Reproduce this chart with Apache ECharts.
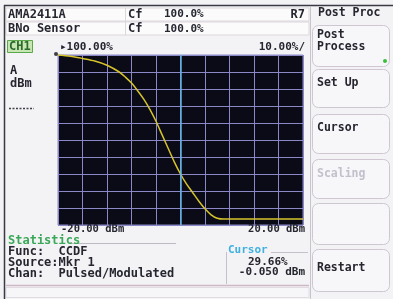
<!DOCTYPE html>
<html>
<head>
<meta charset="utf-8">
<script src="https://cdn.jsdelivr.net/npm/echarts@6/dist/echarts.min.js"></script>
<style>
  html, body { margin: 0; padding: 0; background: #f3f3f5; }
  #main { width: 393px; height: 299px; }
</style>
</head>
<body>
<div id="main"></div>
<script>
// power level (dBm) and CCDF (%)
const levelDbm = [-20, -18, -16, -14, -12, -10, -9, -8, -7, -6, -5, -4, -3, -2, -1, 0, 1, 2, 3, 4, 5, 6, 7, 10, 15, 20];
const ccdfPct  = [100, 99.3, 98, 96.5, 94, 90, 87, 83.5, 79, 74, 68, 61, 53, 45, 37, 30, 24, 19, 14, 9.5, 6, 4, 3.5, 3.5, 3.5, 3.5];
const cursorDbm = 0;
const xTicks = { min: -20, max: 20, step: 4 };
const yTicks = { min: 0, max: 100, step: 10 };

const chart = echarts.init(document.getElementById('main'));

const mono = (size, weight) => (weight || 'bold') + ' ' + size + 'px "DejaVu Sans Mono", monospace';
const ink = '#262630';

function txt(text, x, y, opts) {
  opts = opts || {};
  return {
    type: 'text', silent: true, z: 10,
    style: {
      text: text, x: x, y: y,
      font: mono(opts.size || 12, opts.weight),
      fill: opts.color || ink,
      align: opts.align || 'left',
      verticalAlign: 'middle'
    }
  };
}
function box(x, y, w, h, fill, stroke, r) {
  return {
    type: 'rect', silent: true, z: 1,
    shape: { x: x, y: y, width: w, height: h, r: r || 0 },
    style: { fill: fill, stroke: stroke, lineWidth: 1 }
  };
}
function line(x1, y1, x2, y2, color, width, dash) {
  return {
    type: 'line', silent: true, z: 2,
    shape: { x1: x1, y1: y1, x2: x2, y2: y2 },
    style: { stroke: color, lineWidth: width || 1, lineDash: dash || null }
  };
}

const btnStroke = '#cfc6d2';
const graphics = [
  // frame
  line(4, 5.5, 393, 5.5, '#3a3a44', 1.5),
  line(4.5, 5, 4.5, 299, '#3a3a44', 1.5),
  line(310.5, 6, 310.5, 299, '#c9c4cc', 1),
  // header rows
  box(6, 8, 303, 13, '#fbfbfc', '#ddd6dc'),
  box(6, 22, 303, 13, '#fbfbfc', '#ddd6dc'),
  line(125.5, 8, 125.5, 35, '#ddd6dc'),
  txt('AMA2411A', 8, 14.5),
  txt('Cf', 128, 14.5),
  txt('100.0%', 164, 14.5, { size: 11 }),
  txt('R7', 305, 14.5, { align: 'right' }),
  txt('BNo Sensor', 8, 29),
  txt('Cf', 128, 29),
  txt('100.0%', 164, 29, { size: 11 }),
  // side panel
  txt('Post Proc', 318, 13.5, { size: 11.5 }),
  box(312.5, 25.5, 77, 41, '#f7f7f9', btnStroke, 6),
  txt('Post', 317, 35, { size: 11.5 }),
  txt('Process', 317, 47.5, { size: 11.5 }),
  { type: 'circle', silent: true, z: 10, shape: { cx: 385, cy: 61, r: 2 }, style: { fill: '#3cbf3c' } },
  box(312.5, 69.5, 77, 38, '#f7f7f9', btnStroke, 6),
  txt('Set Up', 317, 83, { size: 11.5 }),
  box(312.5, 114.5, 77, 39, '#f7f7f9', btnStroke, 6),
  txt('Cursor', 317, 128, { size: 11.5 }),
  box(312.5, 159.5, 77, 39, '#f7f7f9', btnStroke, 6),
  txt('Scaling', 317, 174, { size: 11.5, color: '#c4bfcc' }),
  box(312.5, 203.5, 77, 41, '#f7f7f9', btnStroke, 6),
  box(312.5, 249.5, 77, 42, '#f7f7f9', btnStroke, 6),
  txt('Restart', 317, 268, { size: 11.5 }),
  // channel block
  box(7.5, 40.5, 25, 12, '#c7e6b4', '#5aa84a'),
  txt('CH1', 9, 47, { color: '#2b6a2b' }),
  txt('\u25B8100.00%', 60, 47, { size: 11 }),
  txt('10.00%/', 305, 47, { size: 11, align: 'right' }),
  txt('A', 10, 71),
  txt('dBm', 10, 84),
  line(9, 108.5, 34, 108.5, '#40404a', 1.5, [2, 1.5]),
  // x range labels
  txt('-20.00 dBm', 61, 229.5, { size: 10.5 }),
  txt('20.00 dBm', 305, 229.5, { size: 10.5, align: 'right' }),
  // statistics block
  txt('Statistics', 8, 241, { color: '#3aa858' }),
  line(72, 243.5, 176, 243.5, '#bdbac4'),
  txt('Func:  CCDF', 8, 252),
  txt('Source:Mkr 1', 8, 263),
  txt('Chan:  Pulsed/Modulated', 8, 274),
  // cursor readout
  txt('Cursor', 228, 250, { size: 11, color: '#3fb0e0' }),
  line(226.5, 252, 226.5, 284, '#c4c0cc'),
  line(271, 252.5, 308, 252.5, '#c4c0cc'),
  txt('29.66%', 248, 262, { size: 11 }),
  txt('-0.050 dBm', 305, 272.5, { size: 11, align: 'right' }),
  // bottom message bar
  line(6, 285.5, 309, 285.5, '#cdb8c8', 1.5),
  box(6, 287.5, 303, 10, '#f6f6f8', '#e0dce2')
];

const option = {
  backgroundColor: '#f3f3f5',
  animation: false,
  grid: {
    left: 58, top: 55, width: 245, height: 170,
    show: true, backgroundColor: '#0b0b17', borderColor: '#8a88c6', borderWidth: 1
  },
  xAxis: {
    type: 'value', min: xTicks.min, max: xTicks.max, interval: xTicks.step,
    axisLine: { show: false }, axisTick: { show: false }, axisLabel: { show: false },
    splitLine: { show: true, lineStyle: { color: '#8a88c6', width: 1 } }
  },
  yAxis: {
    type: 'value', min: yTicks.min, max: yTicks.max, interval: yTicks.step,
    axisLine: { show: false }, axisTick: { show: false }, axisLabel: { show: false },
    splitLine: { show: true, lineStyle: { color: '#8a88c6', width: 1 } }
  },
  graphic: graphics,
  series: [
    {
      type: 'line',
      data: levelDbm.map((x, i) => [x, ccdfPct[i]]),
      showSymbol: false,
      smooth: 0.3,
      lineStyle: { color: '#d6c42c', width: 1.5 },
      markLine: {
        silent: true, symbol: 'none', animation: false,
        label: { show: false },
        lineStyle: { color: '#5fb6e8', width: 1.5, type: 'solid' },
        data: [{ xAxis: cursorDbm }]
      },
      z: 3
    },
    {
      type: 'scatter',
      data: [[levelDbm[0], ccdfPct[0]]],
      symbolSize: 4,
      symbolOffset: [-2, -1],
      clip: false,
      itemStyle: { color: '#111' },
      z: 4
    }
  ]
};

chart.setOption(option);
</script>
</body>
</html>
